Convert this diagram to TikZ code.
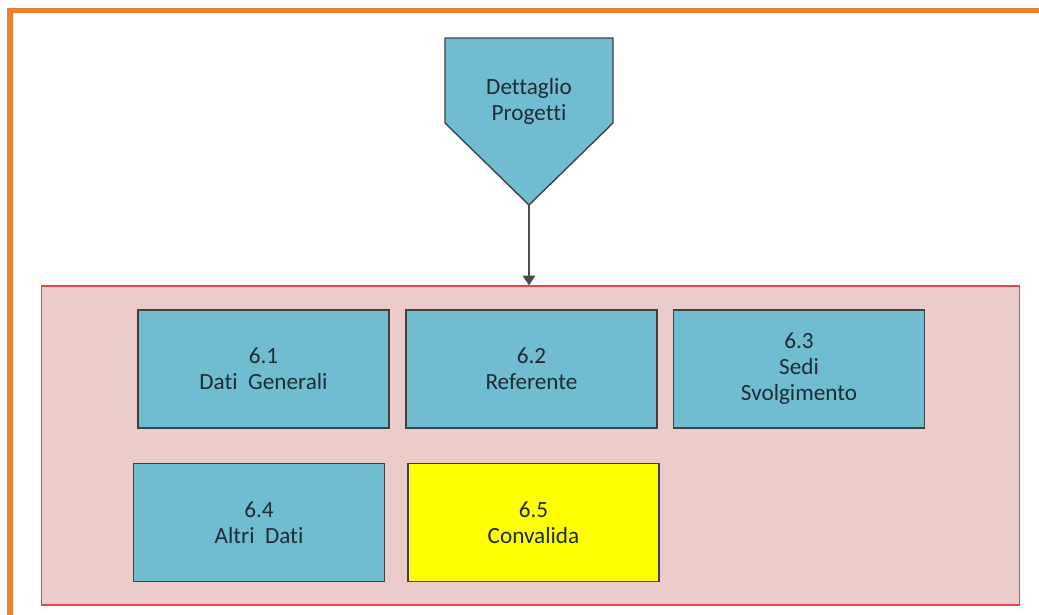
\documentclass[tikz,border=0pt]{standalone}
\usepackage{fontspec}
\setmainfont{Carlito}[Ligatures={NoCommon}]
\usetikzlibrary{arrows.meta}
\definecolor{frameorange}{HTML}{ED7D31}
\definecolor{areapink}{HTML}{ECCBCB}
\definecolor{areared}{HTML}{E04848}
\definecolor{boxblue}{HTML}{70BDD2}
\definecolor{boxline}{HTML}{3C4347}
\definecolor{boxyellow}{HTML}{FFFF00}
\definecolor{txt}{HTML}{1E2B33}
\tikzset{
  area/.style={draw=areared, fill=areapink, line width=0.8pt, minimum width=24.425cm, minimum height=7.975cm, inner sep=0pt},
  stepbox/.style={draw=boxline, fill=boxblue, line width=1pt, minimum width=6.275cm, minimum height=2.95cm, align=center, text=txt, font=\fontsize{16.5}{18.5}\selectfont, inner sep=0pt},
  donebox/.style={stepbox, fill=boxyellow},
}
\begin{document}
\begin{tikzpicture}[x=0.025cm, y=-0.025cm]
\useasboundingbox (0,0) rectangle (1039,614);
% frame
\draw[frameorange, line width=3.6pt] (10,620) -- (10,10.5) -- (1045,10.5);
% container
\node[area] (group) at (530.5,445.5) {};
% entry
\draw[boxline, fill=boxblue, line width=1pt] (445,38) -- (613,38) -- (613,123) -- (529,205) -- (445,123) -- cycle;
\node[align=center, text=txt, font=\fontsize{16.5}{18.5}\selectfont] (dp) at (529,101) {Dettaglio\\Progetti};
\coordinate (dptip) at (529,205);
% steps
\node[stepbox] (s61) at (263.5,369) {6.1\\Dati\ \ Generali};
\node[stepbox] (s62) at (531.5,369) {6.2\\Referente};
\node[stepbox] (s63) at (799,369) {6.3\\Sedi\\Svolgimento};
\node[stepbox] (s64) at (259,522.5) {6.4\\Altri\ \ Dati};
\node[donebox] (s65) at (533.5,522.5) {6.5\\Convalida};
% arrows
\draw[-{Triangle[width=9pt, length=7pt]}, line width=0.9pt, black!70] (dptip) -- (dptip |- group.north);
\end{tikzpicture}
\end{document}
